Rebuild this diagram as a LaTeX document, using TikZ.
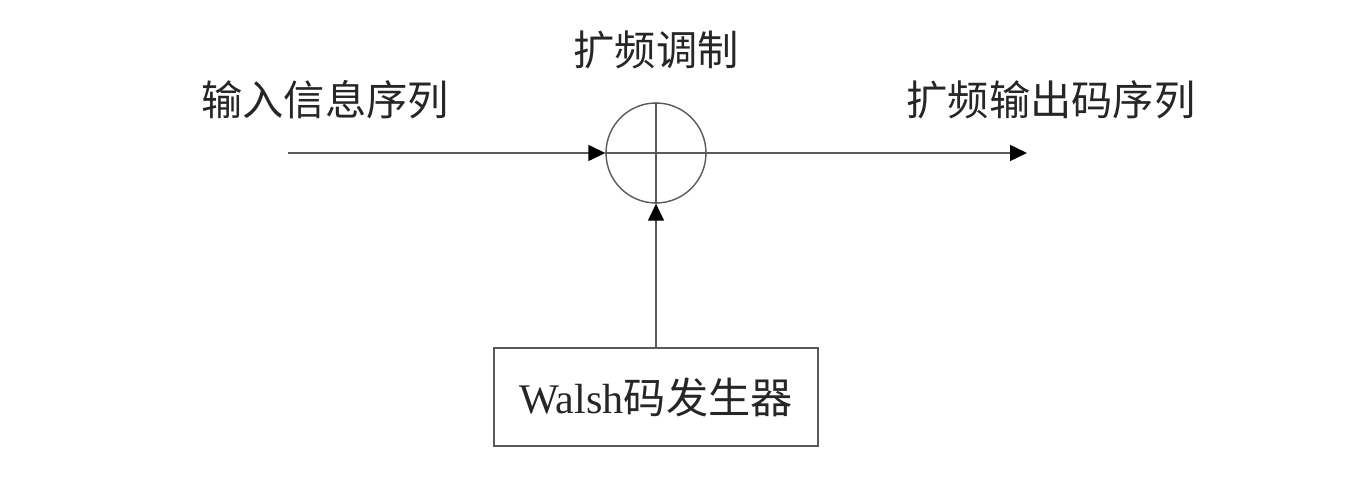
\documentclass[tikz,border=0pt]{standalone}
\usepackage{fontspec}
\setmainfont{Liberation Serif}
\newfontfamily\cjk{Noto Sans CJK SC}
\usepackage{tikz}
\usetikzlibrary{arrows.meta,positioning,calc}
\definecolor{lineGray}{RGB}{90,90,90}

\begin{document}
\begin{tikzpicture}[
      x=0.02cm, y=-0.02cm,
      label/.style={font=\fontsize{23.5}{28}\selectfont\cjk, text=black!85, inner sep=0pt},
      sumcircle/.style={circle, draw=lineGray, line width=0.8pt, minimum size=2cm, inner sep=0pt},
      genbox/.style={rectangle, draw=lineGray, line width=0.8pt, minimum width=6.48cm,
                     minimum height=1.96cm, font=\fontsize{24}{28}\selectfont, text=black!85},
      arrow/.style={-{Triangle[length=0.34cm, width=0.32cm, color=black]}, line width=0.8pt, draw=lineGray}
    ]
      \useasboundingbox (0,0) rectangle (1363,479);
      \node[sumcircle] (mod) at (656,153) {};
      \node[genbox] (walsh) at (656,397) {Walsh{\cjk 码发生器}};
      \coordinate (in) at (288,153);
      \coordinate (out) at (1027,153);
      %% labels
      \node[label] (modlab) at (656,50) {扩频调制};
      \node[label] (inlab) at (325,100) {输入信息序列};
      \node[label] (outlab) at (1051,100) {扩频输出码序列};
      %% cross inside the circle
      \draw[lineGray, line width=0.8pt] (mod.west) -- (mod.east);
      \draw[lineGray, line width=0.8pt] (mod.north) -- (mod.south);
      %% signal flow
      \draw[arrow] (in) -- (mod.west);
      \draw[arrow] (mod.east) -- (out);
      \draw[arrow] (walsh.north) -- (mod.south);
    \end{tikzpicture}
\end{document}
